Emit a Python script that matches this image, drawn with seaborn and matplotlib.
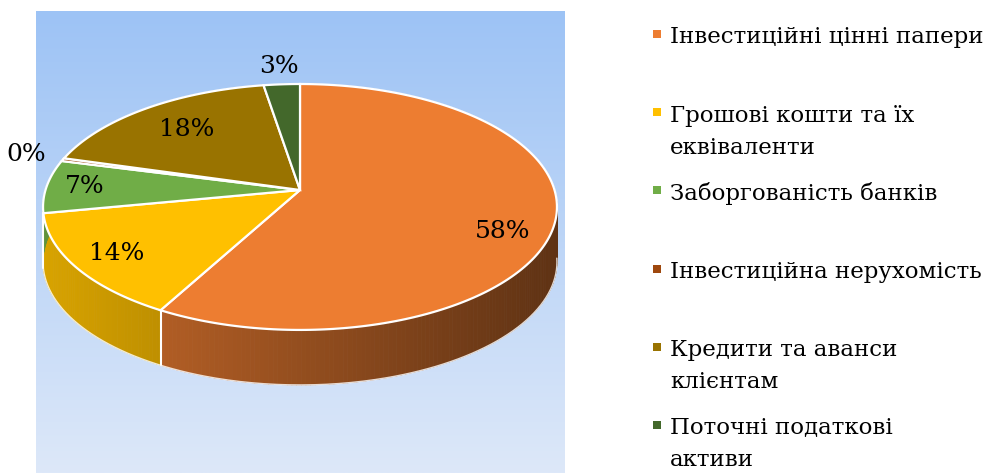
import numpy as np
import matplotlib
matplotlib.use("Agg")
import matplotlib.pyplot as plt
from matplotlib.collections import PolyCollection
from matplotlib.colors import to_rgb
import seaborn as sns

# data (shares, %)
categories = [
    "Інвестиційні цінні папери",
    "Грошові кошти та їх\nеквіваленти",
    "Заборгованість банків",
    "Інвестиційна нерухомість",
    "Кредити та аванси\nклієнтам",
    "Поточні податкові\nактиви",
]
shares = [58.0, 14.0, 7.0, 0.4, 18.0, 2.6]
colors = ["#ED7D31", "#FFC000", "#70AD47", "#9E480E", "#997300", "#43682B"]

# label placement (radius as fraction of pie radius, angle nudge in deg)
label_r = [0.83, 0.83, 0.85, 1.16, 0.72, 1.2]
label_nudge = [-9, 0, 0, 0, 0, 0]

sns.set_theme(style="white")
plt.rcParams["font.family"] = ["DejaVu Serif", "DejaVu Sans"]

W, H = 986, 473
fig = plt.figure(figsize=(W / 100, H / 100), dpi=100)
ax = fig.add_axes([0, 0, 1, 1])
ax.set_xlim(0, W)
ax.set_ylim(H, 0)
ax.axis("off")

# plot area gradient
grad = np.linspace(0, 1, 256)[:, None]
top_c = np.array(to_rgb("#9DC3F5"))
bot_c = np.array(to_rgb("#DDE8F9"))
img = top_c[None, None, :] * (1 - grad[..., None]) + bot_c[None, None, :] * grad[..., None]
ax.imshow(img, extent=[36, 565, 473, 12], aspect="auto", zorder=0)

# pseudo-3d projection of a unit disc
cx, cy = 300, 190
Rx = 254.5
pa, pc = 94.4, -0.138
depth = 55


def project(theta, r=1.0):
    u = r * np.cos(theta)
    v = -r * np.sin(theta)
    s = 1.0 / (1 + pc * v)
    return cx + Rx * u * s, (pa * v + cy) / (1 + pc * v)


fr = np.array(shares) / np.sum(shares)
starts = np.concatenate([[0], np.cumsum(fr)[:-1]])
ends = np.cumsum(fr)
# excel style: start at 12 o'clock, clockwise
to_theta = lambda f: np.deg2rad(90 - 360 * f)

xmin, xmax = cx - Rx * 1.01, cx + Rx * 1.01

# side walls
for f0, f1, col in zip(starts, ends, colors):
    th = to_theta(np.linspace(f0, f1, max(int(400 * (f1 - f0)), 2)))
    x, y = project(th)
    base = np.array(to_rgb(col))
    polys, cols = [], []
    for i in range(len(th) - 1):
        polys.append([(x[i], y[i]), (x[i + 1], y[i + 1]),
                      (x[i + 1], y[i + 1] + depth), (x[i], y[i] + depth)])
        t = ((x[i] + x[i + 1]) / 2 - xmin) / (xmax - xmin)
        cols.append(np.clip(base * (0.85 - 0.45 * t), 0, 1))
    ax.add_collection(PolyCollection(polys, facecolors=cols, edgecolors=cols,
                                     linewidths=0.6, zorder=2))

# bottom outline of the wall (front half)
th = to_theta(np.linspace(0, 1, 600))
x, y = project(th)
front = -np.sin(th) > 0.1
ax.plot(x[front], y[front] + depth, color="white", lw=1.0, alpha=0.8, zorder=3)

# slice boundaries on the wall
for f in starts:
    th0 = to_theta(f)
    if -np.sin(th0) > 0.14:
        x0, y0 = project(th0)
        ax.plot([x0, x0], [y0, y0 + depth], color="white", lw=1.5, zorder=3)

# top faces
for f0, f1, col in zip(starts, ends, colors):
    th = to_theta(np.linspace(f0, f1, max(int(400 * (f1 - f0)), 2)))
    x, y = project(th)
    xs = np.concatenate([[cx], x, [cx]])
    ys = np.concatenate([[cy], y, [cy]])
    ax.fill(xs, ys, facecolor=col, edgecolor="white", lw=1.6, zorder=4)

# data labels
for f0, f1, v, rr, dn in zip(starts, ends, shares, label_r, label_nudge):
    th = to_theta((f0 + f1) / 2) + np.deg2rad(dn)
    lx, ly = project(th, rr)
    ax.text(lx, ly, f"{v:.0f}%", ha="center", va="center", fontsize=18,
            color="black", zorder=5)

# legend
for i, (lab, col) in enumerate(zip(categories, colors)):
    base_y = 43.5 + 78 * i
    ax.scatter([656.5], [base_y - 9], marker="s", s=40, color=col, zorder=5,
               linewidths=0)
    for j, line in enumerate(lab.split("\n")):
        ax.text(670, base_y + 32 * j, line, ha="left", va="baseline",
                fontsize=16.5, color="black", zorder=5)

fig.savefig("out.png", dpi=100)
